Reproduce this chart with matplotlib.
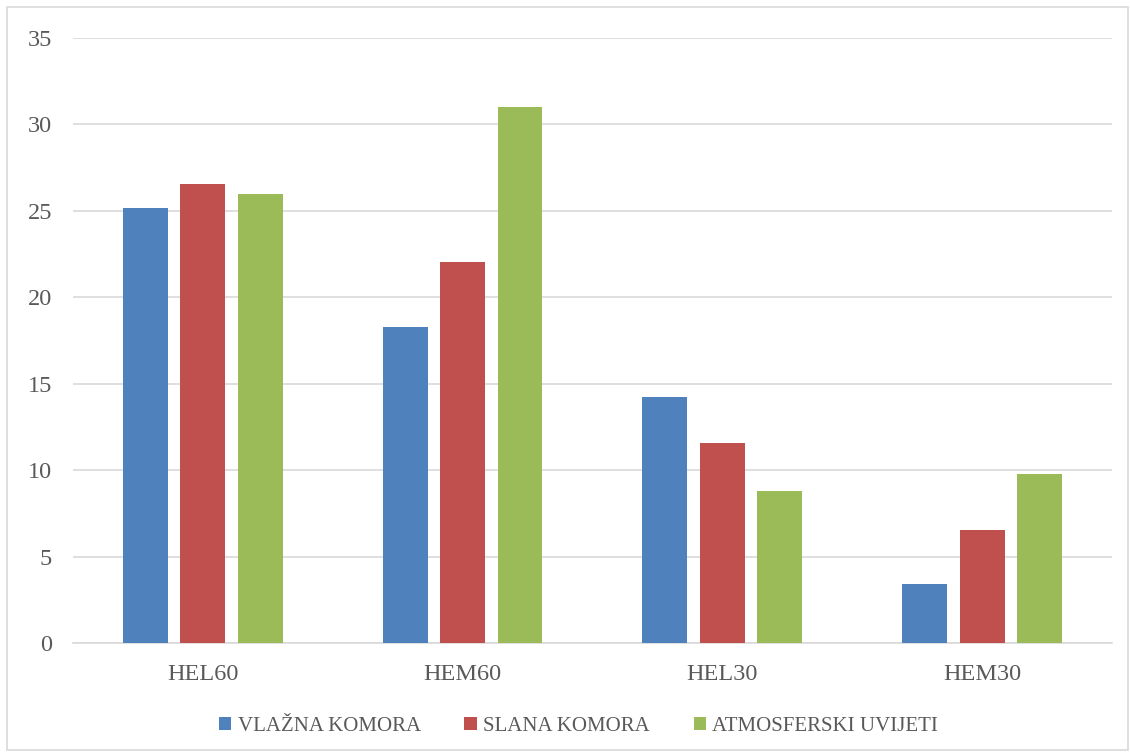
import numpy as np
import matplotlib.pyplot as plt
from matplotlib.patches import Rectangle

categories = ["HEL60", "HEM60", "HEL30", "HEM30"]
series_names = ["VLAŽNA KOMORA", "SLANA KOMORA", "ATMOSFERSKI UVIJETI"]
vlazna = [25.15, 18.3, 14.25, 3.4]
slana = [26.55, 22.05, 11.6, 6.55]
atmosferski = [26.0, 31.0, 8.8, 9.75]
colors = ["#4f81bd", "#c0504d", "#9bbb59"]

plt.rcParams["font.family"] = ["Liberation Serif", "DejaVu Serif"]
text_color = "#595959"

fig = plt.figure(figsize=(11.3, 7.55), dpi=100)
fig.patches.append(Rectangle((0.006, 0.006), 0.992, 0.985, transform=fig.transFigure,
                             fill=False, edgecolor="#d9d9d9", linewidth=1.2))
ax = fig.add_axes([0.0646, 0.1483, 0.9194, 0.8014])

x = np.arange(len(categories))
w = 0.173
step = 0.221
for i, (vals, name) in enumerate(zip([vlazna, slana, atmosferski], series_names)):
    ax.bar(x + (i - 1) * step, vals, w, color=colors[i], label=name, zorder=3)

ax.set_xlim(-0.5, 3.5)
ax.set_ylim(0, 35)
ax.set_yticks(range(0, 36, 5))
ax.set_xticks(x)
ax.set_xticklabels(categories)
ax.grid(axis="y", color="#d9d9d9", linewidth=1.2, zorder=0)
for s in ["top", "right", "left"]:
    ax.spines[s].set_visible(False)
ax.spines["bottom"].set_color("#d9d9d9")
ax.spines["bottom"].set_linewidth(1.2)
ax.tick_params(axis="both", length=0, labelsize=17.5, colors=text_color)
ax.tick_params(axis="x", pad=15)
ax.tick_params(axis="y", pad=15)

fig.legend(loc="center", bbox_to_anchor=(0.512, 0.038), ncol=3, frameon=False,
           fontsize=15, labelcolor=text_color, handlelength=0.6, handleheight=0.6,
           handletextpad=0.3, columnspacing=2.1)

fig.savefig("out.png", dpi=100)
